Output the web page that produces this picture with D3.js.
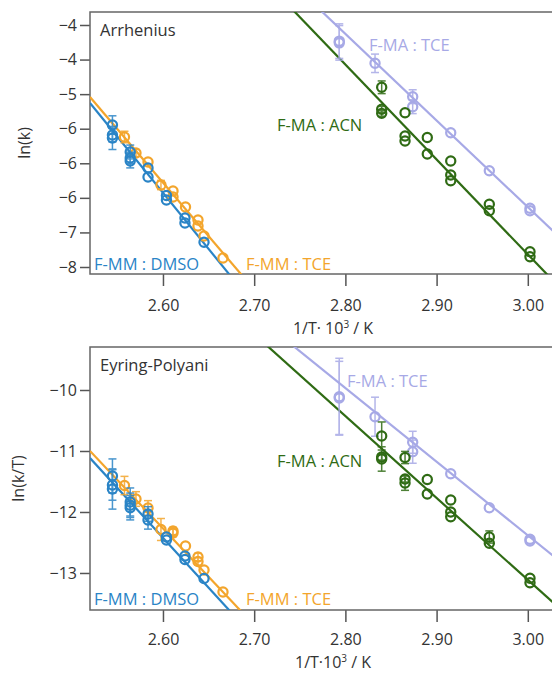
<!DOCTYPE html>
<html>
<head>
<meta charset="utf-8">
<script src="https://cdn.jsdelivr.net/npm/d3@7"></script>
<style>
  body { margin: 0; background: #fff; }
  text { font-family: "Open Sans", "Noto Sans", sans-serif; }
</style>
</head>
<body>
<div id="chart-area"></div>
<script>
// ---- data ----
const xTicks = [2.6, 2.7, 2.8, 2.9, 3.0]
const xTickLabels = ['2.60', '2.70', '2.80', '2.90', '3.00']

const arrYTicks = [-3.8, -4.4, -5.0, -5.6, -6.2, -6.8, -7.4, -8.0]
const arrYTickLabels = ['−4', '−4', '−5', '−6', '−6', '−6', '−7', '−8']
const eyrYTicks = [-10, -11, -12, -13]
const eyrYTickLabels = ['−10', '−11', '−12', '−13']

// 1/T * 10^3 values
const mmDmsoX = [2.5446, 2.5446, 2.5446, 2.5641, 2.5641, 2.5641, 2.5836, 2.5836, 2.6038, 2.6038, 2.6241, 2.6241, 2.6450]
const mmTceX = [2.5578, 2.5704, 2.5836, 2.5978, 2.6110, 2.6110, 2.6247, 2.6384, 2.6384, 2.6450, 2.6658]
const maAcnX = [2.8398, 2.8398, 2.8398, 2.8654, 2.8654, 2.8654, 2.8898, 2.8898, 2.9155, 2.9155, 2.9155, 2.9578, 2.9578, 3.0024, 3.0024]
const maTceX = [2.7933, 2.7933, 2.8325, 2.8738, 2.8738, 2.9155, 2.9578, 3.0024, 3.0024]

// Arrhenius: ln(k)
const arrMmDmso = [-5.536, -5.709, -5.761, -6.004, -6.108, -6.160, -6.282, -6.438, -6.760, -6.837, -7.150, -7.236, -7.570]
const arrMmDmsoErr = [0.16, 0.12, 0.20, 0.12, 0.10, 0.12, 0.04, 0.04, 0.03, 0.03, 0.03, 0.03, 0.03]
const arrMmTce = [-5.744, -6.021, -6.178, -6.577, -6.681, -6.785, -6.959, -7.184, -7.288, -7.462, -7.844]
const arrMmTceErr = [0.10, 0.06, 0.04, 0.08, 0.04, 0.04, 0.03, 0.03, 0.03, 0.03, 0.03]
const arrMaAcn = [-4.881, -5.263, -5.333, -5.322, -5.726, -5.813, -5.753, -6.039, -6.160, -6.403, -6.502, -6.912, -7.023, -7.734, -7.821]
const arrMaAcnErr = [0.11, 0.05, 0.05, 0.04, 0.04, 0.04, 0.03, 0.03, 0.03, 0.03, 0.03, 0.03, 0.03, 0.03, 0.03]
const arrMaTce = [-4.08, -4.11, -4.465, -5.044, -5.218, -5.669, -6.329, -6.981, -7.023]
const arrMaTceErr = [0.30, 0.30, 0.16, 0.12, 0.12, 0.02, 0.02, 0.02, 0.02]

// Eyring-Polyani: ln(k/T)
const eyrMmDmso = [-11.41, -11.557, -11.623, -11.836, -11.890, -11.930, -12.033, -12.131, -12.41, -12.459, -12.721, -12.779, -13.09]
const eyrMmDmsoErr = [0.28, 0.25, 0.33, 0.23, 0.20, 0.20, 0.12, 0.15, 0.04, 0.04, 0.04, 0.04, 0.04]
const eyrMmTce = [-11.566, -11.787, -11.934, -12.287, -12.311, -12.344, -12.557, -12.738, -12.811, -12.951, -13.311]
const eyrMmTceErr = [0.15, 0.12, 0.12, 0.18, 0.06, 0.06, 0.04, 0.06, 0.06, 0.04, 0.04]
const eyrMaAcn = [-10.754, -11.098, -11.131, -11.107, -11.459, -11.525, -11.467, -11.705, -11.803, -12.0, -12.077, -12.41, -12.513, -13.087, -13.159]
const eyrMaAcnErr = [0.23, 0.05, 0.20, 0.10, 0.05, 0.12, 0.04, 0.04, 0.04, 0.04, 0.04, 0.10, 0.04, 0.04, 0.04]
const eyrMaTce = [-10.11, -10.13, -10.438, -10.857, -11.011, -11.374, -11.93, -12.448, -12.475]
const eyrMaTceErr = [0.63, 0.60, 0.32, 0.18, 0.19, 0.03, 0.03, 0.03, 0.03]

// linear fits [intercept, slope]
const arrFits = { mmDmso: [43.91, -19.47], mmTce: [41.72, -18.56], maAcn: [41.63, -16.47], maTce: [38.13, -15.03] }
const eyrFits = { mmDmso: [30.087, -16.35], mmTce: [28.967, -15.86], maAcn: [27.177, -13.43], maTce: [23.856, -12.08] }

const COLORS = { mmDmso: '#2a84c6', mmTce: '#f3a52c', maAcn: '#2f6b14', maTce: '#a7a9e6' }

// ---- layout ----
const W = 552, H = 673
const LEFT = 90, RIGHT = 560
const x = d3.scaleLinear().domain([2.52, 3.0353]).range([LEFT, RIGHT])

const svg = d3.select('#chart-area')
.append('svg')
.attr('width', W)
.attr('height', H)

function drawPanel(opt) {
    const y = d3.scaleLinear().domain(opt.yDomain).range([opt.bottom, opt.top])
    const g = svg.append('g')

    g.append('clipPath').attr('id', opt.id)
    .append('rect')
    .attr('x', LEFT).attr('y', opt.top)
    .attr('width', RIGHT - LEFT).attr('height', opt.bottom - opt.top)

    // axes
    const xAxisCall = d3.axisBottom(x)
    .tickValues(xTicks)
    .tickFormat((d, i) => xTickLabels[i])
    .tickSizeInner(12).tickSizeOuter(0).tickPadding(opt.xPad)
    const xAx = g.append('g')
    .attr('transform', `translate(0,${opt.bottom})`)
    .call(xAxisCall)

    const yAxisCall = d3.axisLeft(y)
    .tickValues(opt.yTicks)
    .tickFormat((d, i) => opt.yTickLabels[i])
    .tickSizeInner(10).tickSizeOuter(0).tickPadding(3)
    const yAx = g.append('g')
    .attr('transform', `translate(${LEFT},0)`)
    .call(yAxisCall)

    for (const ax of [xAx, yAx]) {
        ax.select('.domain').remove()
        ax.selectAll('line').attr('stroke', '#555').attr('stroke-width', 1.5)
        ax.selectAll('text').attr('fill', '#333').attr('font-size', '16px')
            .attr('font-family', '"Open Sans", sans-serif')
    }

    g.append('rect')
    .attr('x', LEFT).attr('y', opt.top)
    .attr('width', RIGHT - LEFT).attr('height', opt.bottom - opt.top)
    .attr('fill', 'none').attr('stroke', '#666').attr('stroke-width', 1.5)

    const plot = g.append('g').attr('clip-path', `url(#${opt.id})`)

    // fit lines
    const order = ['mmTce', 'mmDmso', 'maTce', 'maAcn']
    order.forEach(k => {
        const f = opt.fits[k]
        const xs = x.domain()
        plot.append('line')
        .attr('x1', x(xs[0])).attr('y1', y(f[0] + f[1] * xs[0]))
        .attr('x2', x(xs[1])).attr('y2', y(f[0] + f[1] * xs[1]))
        .attr('stroke', COLORS[k]).attr('stroke-width', 2.2)
    })

    // error bars + points
    order.forEach(k => {
        const s = opt.series[k]
        const pts = s.x.map((xv, i) => ({ x: xv, y: s.y[i], e: s.err[i] }))
        const eb = plot.append('g').attr('stroke', COLORS[k]).attr('stroke-width', 1.5).attr('opacity', 0.85)
        pts.forEach(d => {
            if (d.e < 0.05) return
            eb.append('line').attr('x1', x(d.x)).attr('x2', x(d.x))
            .attr('y1', y(d.y + d.e)).attr('y2', y(d.y - d.e))
            eb.append('line').attr('x1', x(d.x) - 4).attr('x2', x(d.x) + 4)
            .attr('y1', y(d.y + d.e)).attr('y2', y(d.y + d.e))
            eb.append('line').attr('x1', x(d.x) - 4).attr('x2', x(d.x) + 4)
            .attr('y1', y(d.y - d.e)).attr('y2', y(d.y - d.e))
        })
        plot.append('g').selectAll('circle')
        .data(pts).enter().append('circle')
        .attr('cx', d => x(d.x))
        .attr('cy', d => y(d.y))
        .attr('r', 4.6)
        .attr('fill', 'none')
        .attr('stroke', COLORS[k])
        .attr('stroke-width', 2.2)
    })

    // labels
    g.append('text').attr('x', 100).attr('y', opt.top + 24)
    .attr('font-size', '16.5px').attr('fill', '#333').text(opt.title)

    opt.labels.forEach(l => {
        g.append('text').attr('x', l.x).attr('y', l.y)
        .attr('font-size', '16.5px').attr('fill', COLORS[l.k]).text(l.t)
    })

    g.append('text')
    .attr('x', 333).attr('y', opt.bottom + opt.xLabelDy)
    .attr('text-anchor', 'middle').attr('font-size', '16px').attr('fill', '#333')
    .html(opt.xLabel)

    g.append('text')
    .attr('transform', `translate(${opt.yLabelX},${(opt.top + opt.bottom) / 2}) rotate(-90)`)
    .attr('text-anchor', 'middle').attr('font-size', '16px').attr('fill', '#333')
    .text(opt.yLabel)
}

drawPanel({
    id: 'clipA', top: 12, bottom: 274, yDomain: [-8.1215, -3.5745],
    yTicks: arrYTicks, yTickLabels: arrYTickLabels, fits: arrFits,
    title: 'Arrhenius', yLabel: 'ln(k)', yLabelX: 30, xPad: 14, xLabelDy: 60,
    xLabel: '1/T· 10<tspan font-size="10px" dy="-6">3</tspan><tspan dy="6"> / K</tspan>',
    series: {
        mmDmso: { x: mmDmsoX, y: arrMmDmso, err: arrMmDmsoErr },
        mmTce: { x: mmTceX, y: arrMmTce, err: arrMmTceErr },
        maAcn: { x: maAcnX, y: arrMaAcn, err: arrMaAcnErr },
        maTce: { x: maTceX, y: arrMaTce, err: arrMaTceErr }
    },
    labels: [
        { k: 'mmDmso', t: 'F-MM : DMSO', x: 94, y: 270 },
        { k: 'mmTce', t: 'F-MM : TCE', x: 246, y: 270 },
        { k: 'maTce', t: 'F-MA : TCE', x: 369, y: 51 },
        { k: 'maAcn', t: 'F-MA : ACN', x: 277, y: 131 }
    ]
})

drawPanel({
    id: 'clipB', top: 347, bottom: 610, yDomain: [-13.607, -9.295],
    yTicks: eyrYTicks, yTickLabels: eyrYTickLabels, fits: eyrFits,
    title: 'Eyring-Polyani', yLabel: 'ln(k/T)', yLabelX: 24, xPad: 12, xLabelDy: 58,
    xLabel: '1/T·10<tspan font-size="10px" dy="-6">3</tspan><tspan dy="6"> / K</tspan>',
    series: {
        mmDmso: { x: mmDmsoX, y: eyrMmDmso, err: eyrMmDmsoErr },
        mmTce: { x: mmTceX, y: eyrMmTce, err: eyrMmTceErr },
        maAcn: { x: maAcnX, y: eyrMaAcn, err: eyrMaAcnErr },
        maTce: { x: maTceX, y: eyrMaTce, err: eyrMaTceErr }
    },
    labels: [
        { k: 'mmDmso', t: 'F-MM : DMSO', x: 94, y: 605 },
        { k: 'mmTce', t: 'F-MM : TCE', x: 246, y: 605 },
        { k: 'maTce', t: 'F-MA : TCE', x: 347, y: 387 },
        { k: 'maAcn', t: 'F-MA : ACN', x: 277, y: 467 }
    ]
})
</script>
</body>
</html>
